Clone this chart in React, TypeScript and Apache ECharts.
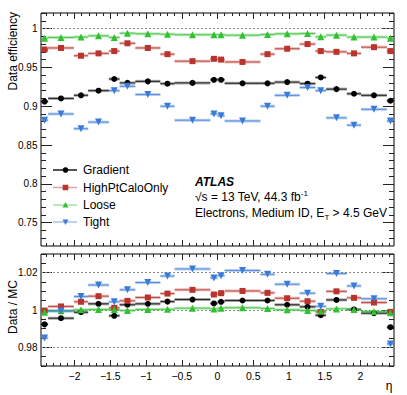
import React, { useEffect, useRef } from "react";
import * as echarts from "echarts";

// eta bin edges
const etaEdges = [-2.47, -2.37, -2.01, -1.81, -1.52, -1.37, -1.15, -0.8, -0.6, -0.1, 0, 0.1, 0.6, 0.8, 1.15, 1.37, 1.52, 1.81, 2.01, 2.37, 2.47];

const seriesNames = ["Gradient", "HighPtCaloOnly", "Loose", "Tight"];

// Data efficiency (top panel)
const effGradient = [0.906, 0.910, 0.914, 0.920, 0.935, 0.930, 0.932, 0.929, 0.930, 0.934, 0.934, 0.9295, 0.9295, 0.931, 0.929, 0.937, 0.922, 0.916, 0.914, 0.907];
const effHighPt = [0.973, 0.975, 0.965, 0.968, 0.971, 0.981, 0.975, 0.967, 0.958, 0.961, 0.960, 0.957, 0.967, 0.974, 0.980, 0.971, 0.970, 0.968, 0.976, 0.971];
const effLoose = [0.9876, 0.9885, 0.989, 0.9906, 0.9885, 0.994, 0.9932, 0.9927, 0.992, 0.992, 0.992, 0.9915, 0.9923, 0.9932, 0.9936, 0.9893, 0.9915, 0.989, 0.989, 0.9876];
const effTight = [0.882, 0.890, 0.871, 0.8795, 0.920, 0.9256, 0.915, 0.900, 0.882, 0.890, 0.8876, 0.881, 0.900, 0.914, 0.924, 0.920, 0.885, 0.8756, 0.896, 0.881];

// Data / MC (bottom panel)
const ratioGradient = [0.9923, 0.9956, 0.9988, 1.0033, 0.9969, 1.0028, 1.0033, 1.0045, 1.0056, 1.0035, 1.0044, 1.0051, 1.0051, 1.0028, 1.0017, 0.9972, 1.0054, 1.0003, 0.9983, 0.9908];
const ratioHighPt = [0.9997, 1.0019, 1.0044, 1.0074, 1.0012, 1.0049, 1.0067, 1.0088, 1.0108, 1.0083, 1.009, 1.0102, 1.0092, 1.0063, 1.0047, 0.999, 1.010, 1.0065, 1.004, 0.999];
const ratioLoose = [0.9988, 0.9996, 1.0001, 1.0003, 1.0003, 0.9997, 1.0003, 1.0004, 1.001, 1.0006, 1.001, 1.0012, 1.0008, 1.0001, 0.9997, 0.9995, 1.0006, 1.0003, 0.9992, 0.9985];
const ratioTight = [0.985, 0.9994, 1.0072, 1.0134, 1.0044, 1.0108, 1.0147, 1.0182, 1.022, 1.0172, 1.0184, 1.0212, 1.0191, 1.0138, 1.009, 1.002, 1.0195, 1.0129, 1.006, 0.9818];

// ticks
const xMajorTicks = [-2, -1.5, -1, -0.5, 0, 0.5, 1, 1.5, 2];
const effMajorTicks = [0.75, 0.8, 0.85, 0.9, 0.95, 1];
const ratioMajorTicks = [0.98, 1, 1.02];
const effRefLines = [1];
const ratioRefLines = [0.98, 1, 1.02];

const range = (a: number, b: number, step: number) => {
  const out: number[] = [];
  const n = Math.round((b - a) / step);
  for (let i = 0; i <= n; i++) out.push(+(a + i * step).toFixed(4));
  return out;
};
const xMinorTicks = range(-2.4, 2.4, 0.1);
const effMinorTicks = range(0.73, 1.02, 0.01);
const ratioMinorTicks = range(0.97, 1.03, 0.005);

const colors = ["#000000", "#b8342c", "#33c033", "#3a7bd8"];
const symbols = ["circle", "rect", "triangle", "triangle"];
const symbolSizes = [6, 6, 7, 7];
const symbolRotates = [0, 0, 0, 180];

const FONT = "'Liberation Sans', Arial, Helvetica, sans-serif";
const X_MIN = -2.47;
const X_MAX = 2.47;

export default function App() {
  const ref = useRef<HTMLDivElement>(null);
  useEffect(() => {
    if (!ref.current) return;
    const chart = echarts.init(ref.current, undefined, { renderer: "svg" });

    const tickStyle = { color: "#222", width: 1 };
    const mkX = (grid: number, pos: string, ticks: number[], len: number, labels: boolean) => ({
      type: "value",
      gridIndex: grid,
      position: pos,
      min: X_MIN,
      max: X_MAX,
      axisLine: { show: false, onZero: false },
      axisTick: { show: true, inside: true, length: len, customValues: ticks, lineStyle: tickStyle },
      axisLabel: labels
        ? {
            show: true,
            customValues: ticks,
            margin: 4,
            fontSize: 10.5,
            color: "#000",
            fontFamily: FONT,
            formatter: (v: number) => (v < 0 ? "\u2212" + String(-v) : String(v)),
          }
        : { show: false },
      splitLine: { show: false },
    });
    const mkY = (grid: number, pos: string, min: number, max: number, ticks: number[], len: number, labels: boolean) => ({
      type: "value",
      gridIndex: grid,
      position: pos,
      min,
      max,
      axisLine: { show: false, onZero: false },
      axisTick: { show: true, inside: true, length: len, customValues: ticks, lineStyle: tickStyle },
      axisLabel: labels
        ? { show: true, customValues: ticks, margin: 3.5, fontSize: 10, color: "#000", fontFamily: FONT }
        : { show: false },
      splitLine: { show: false },
    });

    const xAxes: any[] = [];
    const yAxes: any[] = [];
    // grid 0
    xAxes.push(mkX(0, "bottom", xMajorTicks, 6, false));
    xAxes.push(mkX(0, "bottom", xMinorTicks, 3, false));
    xAxes.push(mkX(0, "top", xMajorTicks, 6, false));
    xAxes.push(mkX(0, "top", xMinorTicks, 3, false));
    yAxes.push(mkY(0, "left", 0.72, 1.02, effMajorTicks, 11, true));
    yAxes.push(mkY(0, "left", 0.72, 1.02, effMinorTicks, 5, false));
    yAxes.push(mkY(0, "right", 0.72, 1.02, effMajorTicks, 11, false));
    yAxes.push(mkY(0, "right", 0.72, 1.02, effMinorTicks, 5, false));
    // grid 1
    xAxes.push(mkX(1, "bottom", xMajorTicks, 6, true));
    xAxes.push(mkX(1, "bottom", xMinorTicks, 3, false));
    xAxes.push(mkX(1, "top", xMajorTicks, 6, false));
    xAxes.push(mkX(1, "top", xMinorTicks, 3, false));
    yAxes.push(mkY(1, "left", 0.97, 1.03, ratioMajorTicks, 11, true));
    yAxes.push(mkY(1, "left", 0.97, 1.03, ratioMinorTicks, 5, false));
    yAxes.push(mkY(1, "right", 0.97, 1.03, ratioMajorTicks, 11, false));
    yAxes.push(mkY(1, "right", 0.97, 1.03, ratioMinorTicks, 5, false));

    const effData = [effGradient, effHighPt, effLoose, effTight];
    const ratioData = [ratioGradient, ratioHighPt, ratioLoose, ratioTight];

    const barSeries = (name: string, color: string, vals: number[], xi: number, yi: number) => ({
      type: "custom",
      name,
      xAxisIndex: xi,
      yAxisIndex: yi,
      silent: true,
      z: 3,
      encode: { x: [0, 1], y: 2 },
      data: vals.map((v, i) => [etaEdges[i], etaEdges[i + 1], v]),
      renderItem: (params: any, api: any) => {
        const p0 = api.coord([api.value(0), api.value(2)]);
        const p1 = api.coord([api.value(1), api.value(2)]);
        return {
          type: "group",
          children: [
            {
              type: "rect",
              shape: { x: p0[0], y: p0[1] - 1.5, width: p1[0] - p0[0], height: 3 },
              style: { fill: color, opacity: 0.35 },
            },
            {
              type: "line",
              shape: { x1: p0[0], y1: p0[1], x2: p1[0], y2: p1[1] },
              style: { stroke: color, lineWidth: 1, opacity: 0.8 },
            },
          ],
        };
      },
    });
    const pointSeries = (i: number, vals: number[], xi: number, yi: number, refLines: number[] | null) => ({
      type: "scatter",
      name: seriesNames[i],
      xAxisIndex: xi,
      yAxisIndex: yi,
      symbol: symbols[i],
      symbolSize: symbolSizes[i],
      symbolRotate: symbolRotates[i],
      itemStyle: { color: colors[i], opacity: 1 },
      silent: true,
      z: 4,
      data: vals.map((v, k) => [(etaEdges[k] + etaEdges[k + 1]) / 2, v]),
      markLine: refLines
        ? {
            silent: true,
            symbol: "none",
            z: 1,
            label: { show: false },
            lineStyle: { color: "#8a8a8a", type: [2, 2], width: 1 },
            data: refLines.map((y) => ({ yAxis: y })),
          }
        : undefined,
    });

    const series: any[] = [];
    for (let i = 0; i < 4; i++) {
      series.push(barSeries(seriesNames[i], colors[i], effData[i], 0, 0));
      series.push(pointSeries(i, effData[i], 0, 0, i === 0 ? effRefLines : null));
      series.push(barSeries(seriesNames[i], colors[i], ratioData[i], 4, 4));
      series.push(pointSeries(i, ratioData[i], 4, 4, i === 0 ? ratioRefLines : null));
    }

    // legend graphics
    const legendY = [170, 187.5, 205, 222];
    const legendEls: any[] = [];
    seriesNames.forEach((n, i) => {
      const y = legendY[i];
      legendEls.push({
        type: "line",
        shape: { x1: 53, y1: y, x2: 77, y2: y },
        style: { stroke: colors[i], lineWidth: 1.5, opacity: i === 0 ? 0.9 : 0.45 },
      });
      const cx = 65.5;
      if (symbols[i] === "circle") {
        legendEls.push({ type: "circle", shape: { cx, cy: y, r: 2.8 }, style: { fill: colors[i] } });
      } else if (symbols[i] === "rect") {
        legendEls.push({ type: "rect", shape: { x: cx - 2.8, y: y - 2.8, width: 5.6, height: 5.6 }, style: { fill: colors[i] } });
      } else if (symbolRotates[i] === 0) {
        legendEls.push({ type: "polygon", shape: { points: [[cx, y - 3], [cx + 3, y + 2.5], [cx - 3, y + 2.5]] }, style: { fill: colors[i] } });
      } else {
        legendEls.push({ type: "polygon", shape: { points: [[cx, y + 3], [cx + 3, y - 2.5], [cx - 3, y - 2.5]] }, style: { fill: colors[i] } });
      }
      legendEls.push({
        type: "text",
        x: 83,
        y,
        style: { text: n, font: `12px ${FONT}`, fill: "#000", verticalAlign: "middle", align: "left" },
      });
    });

    const option: any = {
      animation: false,
      backgroundColor: "#fff",
      grid: [
        { left: 41, top: 13, width: 353, height: 233, show: true, borderColor: "#000", borderWidth: 1, backgroundColor: "transparent" },
        { left: 41, top: 254, width: 353, height: 112, show: true, borderColor: "#000", borderWidth: 1, backgroundColor: "transparent" },
      ],
      xAxis: xAxes,
      yAxis: yAxes,
      series,
      graphic: [
        ...legendEls,
        {
          type: "text",
          x: 13,
          y: 12,
          rotation: Math.PI / 2,
          style: { text: "Data efficiency", font: `12px ${FONT}`, fill: "#000", align: "right", verticalAlign: "middle" },
        },
        {
          type: "text",
          x: 13,
          y: 307,
          rotation: Math.PI / 2,
          style: { text: "Data / MC", font: `12px ${FONT}`, fill: "#000", align: "center", verticalAlign: "middle" },
        },
        {
          type: "text",
          x: 389,
          y: 386,
          style: { text: "\u03b7", font: `12px ${FONT}`, fill: "#000", align: "center", verticalAlign: "middle" },
        },
        {
          type: "text",
          x: 195,
          y: 182,
          style: { text: "ATLAS", font: `italic bold 12px ${FONT}`, fill: "#000", align: "left", verticalAlign: "middle" },
        },
        {
          type: "text",
          x: 195,
          y: 197,
          style: {
            text: "{b|\u221As = 13 TeV, 44.3 fb}{s|-1}",
            align: "left",
            verticalAlign: "middle",
            rich: {
              b: { fontSize: 12, fontFamily: FONT, color: "#000", lineHeight: 16 },
              s: { fontSize: 8, fontFamily: FONT, color: "#000", verticalAlign: "top" },
            },
          },
        },
        {
          type: "text",
          x: 195,
          y: 213,
          style: {
            text: "{b|Electrons, Medium ID, E}{t|T}{b| > 4.5 GeV}",
            align: "left",
            verticalAlign: "middle",
            rich: {
              b: { fontSize: 12, fontFamily: FONT, color: "#000", lineHeight: 16 },
              t: { fontSize: 8, fontFamily: FONT, color: "#000", verticalAlign: "bottom" },
            },
          },
        },
      ],
    };
    chart.setOption(option);
    return () => chart.dispose();
  }, []);
  return <div ref={ref} style={{ position: "absolute", left: 0, top: 0, width: 407, height: 395 }} />;
}
